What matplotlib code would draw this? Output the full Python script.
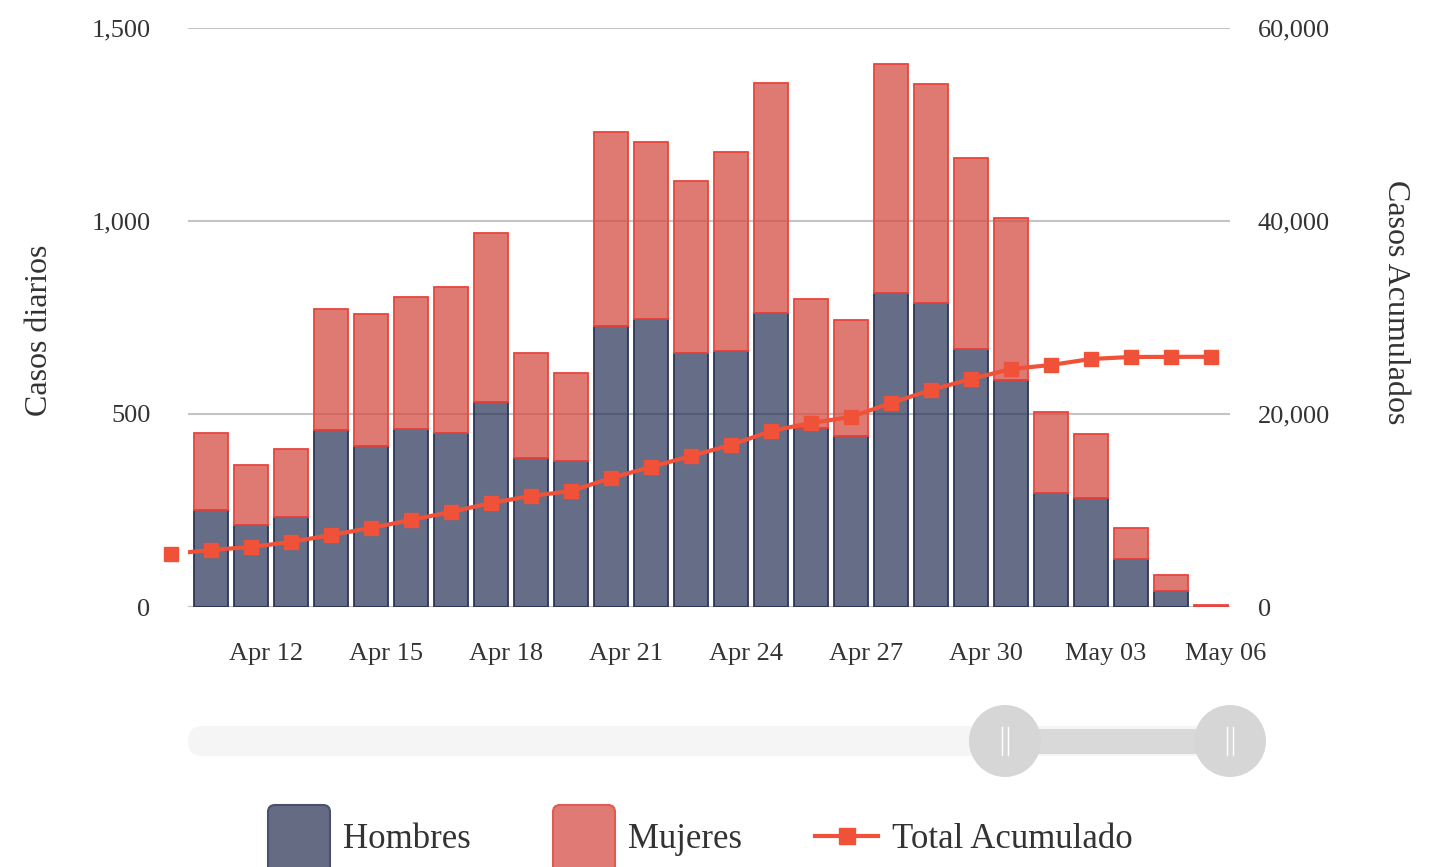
import numpy as np
import pandas as pd
import matplotlib
matplotlib.use("Agg")
import matplotlib.pyplot as plt
from matplotlib.patches import FancyBboxPatch, Circle, Rectangle
from matplotlib.lines import Line2D
from matplotlib.ticker import FuncFormatter

plt.rcParams['font.family'] = ['Liberation Serif', 'DejaVu Serif']

# data
bar_dates = pd.date_range('2020-04-11', '2020-05-06')
line_dates = pd.date_range('2020-04-10', '2020-05-06')
hombres = [251, 212, 233, 459, 416, 461, 451, 531, 386, 378, 727, 746, 657,
           664, 761, 464, 443, 813, 788, 668, 588, 295, 283, 124, 41, 0]
mujeres = [199, 157, 177, 312, 344, 342, 378, 437, 272, 228, 504, 459, 447,
           516, 596, 334, 300, 594, 567, 495, 420, 210, 165, 81, 42, 4]
acumulado = [5500, 5910, 6220, 6740, 7460, 8190, 9020, 9850, 10780, 11500,
             12020, 13370, 14510, 15650, 16790, 18240, 19070, 19690, 21140,
             22490, 23630, 24660, 25080, 25700, 25910, 25920, 25930]
tick_dates = ['Apr 12', 'Apr 15', 'Apr 18', 'Apr 21', 'Apr 24', 'Apr 27',
              'Apr 30', 'May 03', 'May 06']
series_names = ['Hombres', 'Mujeres', 'Total Acumulado']

c_h = '#2b3558'
c_m = '#d54c42'
c_line = '#ef5238'
txt = '#333333'

W, H = 1446, 867
fig = plt.figure(figsize=(W / 100, H / 100), dpi=100)
ax = fig.add_axes([188 / W, 1 - 607 / H, (1230 - 188) / W, (607 - 28) / H])
ax2 = ax.twinx()

t0 = bar_dates[0]
bx = np.array((bar_dates - t0).days)
lx = np.array((line_dates - t0).days)

ax.bar(bx, hombres, width=0.86, color=c_h, alpha=0.72, linewidth=0)
ax.bar(bx, hombres, width=0.86, fill=False, edgecolor=c_h, linewidth=1.3)
ax.bar(bx, mujeres, bottom=hombres, width=0.86, color=c_m, alpha=0.74, linewidth=0)
ax.bar(bx, mujeres, bottom=hombres, width=0.86, fill=False, edgecolor='#e8453c', linewidth=1.3)

ax2.plot(lx, acumulado, color=c_line, lw=3)
ax2.plot(lx, acumulado, 's', color=c_line, ms=10.5, clip_on=False)

ax.set_xlim(-0.575, 25.475)
ax.set_ylim(0, 1500)
ax2.set_ylim(0, 60000)
ax.set_yticks([0, 500, 1000, 1500])
ax2.set_yticks([0, 20000, 40000, 60000])
fmt = FuncFormatter(lambda v, p: f'{v:,.0f}')
ax.yaxis.set_major_formatter(fmt)
ax2.yaxis.set_major_formatter(fmt)

tick_pos = [(pd.Timestamp(f'2020 {d}') - t0).days + 0.37 for d in tick_dates]
ax.set_xticks(tick_pos)
ax.set_xticklabels(tick_dates)

ax.grid(axis='y', color='#c4c4c4', lw=1.5)
ax.set_axisbelow(True)
for a in (ax, ax2):
    for s in a.spines.values():
        s.set_visible(False)
ax.axhline(0, color='#9a9a9a', lw=1.5, zorder=0.5)

ax.tick_params(axis='y', length=0, pad=27, labelsize=19, labelcolor=txt)
ax.tick_params(axis='x', length=0, pad=26, labelsize=19, labelcolor=txt)
ax2.tick_params(axis='y', length=0, pad=20, labelsize=19, labelcolor=txt)

fig.text(40 / W, 1 - 330 / H, 'Casos diarios', rotation=90, ha='center',
         va='center', fontsize=23, color=txt)
fig.text(1395 / W, 1 - 302 / H, 'Casos Acumulados', rotation=270, ha='center',
         va='center', fontsize=23, color=txt)

# slider and legend drawn on an overlay in pixel units
ov = fig.add_axes([0, 0, 1, 1])
ov.set_xlim(0, W)
ov.set_ylim(H, 0)
ov.axis('off')
ov.add_patch(FancyBboxPatch((188, 726), 1077, 30, boxstyle='round,pad=0,rounding_size=15',
                            fc='#f5f5f5', ec='none'))
ov.add_patch(Rectangle((1005, 729), 225, 25, fc='#d9d9d9', ec='none'))
for hx in (1005, 1230):
    ov.add_patch(Circle((hx, 741), 36, fc='#d6d6d6', ec='none'))
    for dx in (-3, 3):
        ov.plot([hx + dx, hx + dx], [727, 755], color='white', lw=1)

ov.add_patch(FancyBboxPatch((268, 805), 62, 75, boxstyle='round,pad=0,rounding_size=7',
                            fc='#646b82', ec='#4a5170', lw=1.5))
ov.text(343, 839, series_names[0], fontsize=25, color=txt, va='center')
ov.add_patch(FancyBboxPatch((553, 805), 62, 75, boxstyle='round,pad=0,rounding_size=7',
                            fc='#e07a75', ec='#e05a52', lw=1.5))
ov.text(628, 839, series_names[1], fontsize=25, color=txt, va='center')
ov.add_line(Line2D([815, 878], [836, 836], color=c_line, lw=3))
ov.add_line(Line2D([847], [836], marker='s', ms=11, color=c_line))
ov.text(892, 839, series_names[2], fontsize=25, color=txt, va='center')

fig.savefig('out.png', dpi=100)
